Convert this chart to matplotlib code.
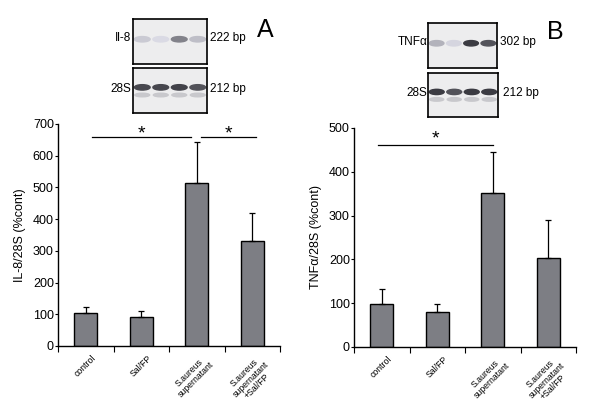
import matplotlib.pyplot as plt
from matplotlib.patches import Ellipse

# bar data
groups = ['control', 'Sal/FP', 'S.aureus\nsupernatant', 'S.aureus\nsupernatant\n+Sal/FP']
il8 = [103, 90, 515, 330]
il8_err = [21, 20, 127, 88]
tnf = [99, 80, 351, 204]
tnf_err = [34, 19, 94, 86]

# band darkness for the gel insets (0 = none, 1 = black)
il8_band = [0.15, 0.08, 0.45, 0.2]
s28_a = [0.7, 0.7, 0.72, 0.65]
tnf_band = [0.25, 0.1, 0.75, 0.65]
s28_b = [0.75, 0.65, 0.75, 0.75]

plt.rcParams['font.family'] = ['Liberation Sans', 'DejaVu Sans']
fig = plt.figure(figsize=(6, 4.01), dpi=100)

barcol = '#7d7e84'


def bars(ax, vals, errs, ymax, step, ylabel):
    x = [i + 0.5 for i in range(len(vals))]
    ax.bar(x, vals, width=0.42, color=barcol, edgecolor='black', linewidth=1, zorder=2)
    ax.errorbar(x, vals, yerr=[[0] * len(errs), errs], fmt='none', ecolor='black',
                elinewidth=0.9, capsize=2.5, capthick=0.9, zorder=3)
    ax.set_xlim(0, 4)
    ax.set_ylim(0, ymax)
    ax.set_yticks(range(0, ymax + 1, step))
    ax.set_xticks(range(5))
    ax.set_xticklabels([])
    ax.tick_params(axis='y', labelsize=9, length=2, width=0.8, pad=1)
    ax.tick_params(axis='x', length=4, width=0.8)
    ax.spines['top'].set_visible(False)
    ax.spines['right'].set_visible(False)
    for s in ['left', 'bottom']:
        ax.spines[s].set_linewidth(1)
    ax.set_ylabel(ylabel, fontsize=9, labelpad=5)
    # rotated category labels under the axis
    for i, g in enumerate(groups):
        ax.text(x[i] + 0.1, -0.035, g, transform=ax.get_xaxis_transform(), rotation=45,
                ha='right', va='top', rotation_mode='anchor', multialignment='center',
                fontsize=6.3, linespacing=1.0, clip_on=False)


def sig(ax, x0, x1, y, ys):
    ax.plot([x0, x1], [y, y], color='black', lw=0.9, clip_on=False)
    ax.text((x0 + x1) / 2, ys, '*', ha='center', va='center', fontsize=14)


axA = fig.add_axes([0.0967, 0.1372, 0.37, 0.5536])
bars(axA, il8, il8_err, 700, 100, 'IL-8/28S (%cont)')
sig(axA, 0.62, 2.4, 659, 668)
sig(axA, 2.57, 3.56, 659, 668)

axB = fig.add_axes([0.59, 0.1347, 0.37, 0.5461])
bars(axB, tnf, tnf_err, 500, 100, 'TNF\u03b1/28S (%cont)')
sig(axB, 0.43, 2.5, 461, 476)


def blot(rect, dark, ypos):
    ax = fig.add_axes(rect)
    ax.set_facecolor('#ededee')
    ax.set_xlim(0, 4)
    ax.set_ylim(0, 1)
    ax.set_xticks([])
    ax.set_yticks([])
    for s in ax.spines.values():
        s.set_linewidth(1.2)
    for i, d in enumerate(dark):
        g = 1 - d
        ax.add_patch(Ellipse((i + 0.5, ypos), 0.85, 0.12,
                             color=(0.93 * g, 0.93 * g, 0.95 * g + 0.02)))
    return ax


blot([0.2217, 0.8404, 0.1233, 0.1122], il8_band, 0.55)
b2 = blot([0.2217, 0.7182, 0.1233, 0.1122], s28_a, 0.57)
for i in range(4):
    b2.add_patch(Ellipse((i + 0.5, 0.4), 0.8, 0.08, color='#c8c8cc'))
blot([0.7133, 0.8304, 0.115, 0.1122], tnf_band, 0.55)
b4 = blot([0.7133, 0.7082, 0.1167, 0.1097], s28_b, 0.57)
for i in range(4):
    b4.add_patch(Ellipse((i + 0.5, 0.4), 0.8, 0.08, color='#c8c8cc'))

fig.text(0.218, 0.905, 'Il-8', ha='right', va='center', fontsize=8.5)
fig.text(0.350, 0.905, '222 bp', ha='left', va='center', fontsize=8.5)
fig.text(0.218, 0.778, '28S', ha='right', va='center', fontsize=8.5)
fig.text(0.350, 0.778, '212 bp', ha='left', va='center', fontsize=8.5)
fig.text(0.428, 0.925, 'A', ha='left', va='center', fontsize=18)

fig.text(0.712, 0.895, 'TNF\u03b1', ha='right', va='center', fontsize=8.5)
fig.text(0.833, 0.895, '302 bp', ha='left', va='center', fontsize=8.5)
fig.text(0.712, 0.768, '28S', ha='right', va='center', fontsize=8.5)
fig.text(0.838, 0.768, '212 bp', ha='left', va='center', fontsize=8.5)
fig.text(0.912, 0.92, 'B', ha='left', va='center', fontsize=18)

fig.savefig('out.png', dpi=100)
